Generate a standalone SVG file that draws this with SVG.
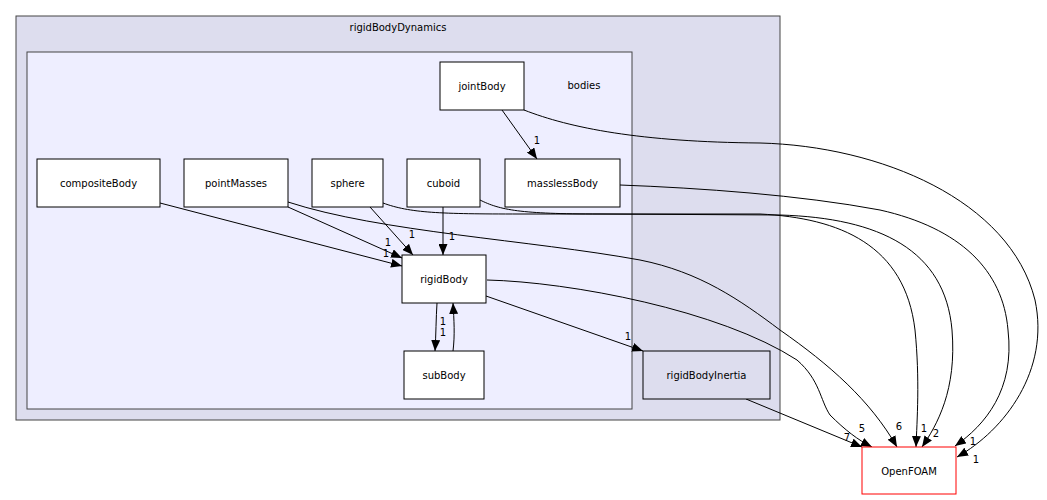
<svg xmlns="http://www.w3.org/2000/svg" width="1047" height="500" viewBox="0 0 1047 500">
<style>
text{font-family:"DejaVu Sans",sans-serif;font-size:10px;fill:#000}
.n{text-anchor:middle}
.box{fill:#fff;stroke:#000;stroke-width:1}
.e{fill:none;stroke:#000;stroke-width:1;marker-end:url(#ah)}
.l{text-anchor:middle}
</style>
<defs>
<marker id="ah" viewBox="0 0 11 9" refX="11" refY="4.5" markerWidth="11" markerHeight="9" markerUnits="userSpaceOnUse" orient="auto">
<path d="M0,0 L11,4.5 L0,9 z" fill="#000"/>
</marker>
</defs>
<g id="cluster_rigidBodyDynamics">
<rect x="16" y="16" width="764" height="404" fill="#ddddee" stroke="#444" stroke-width="1"/>
<text x="398" y="31" class="n">rigidBodyDynamics</text>
</g>
<g id="cluster_bodies">
<rect x="27" y="52" width="605" height="357" fill="#eeeeff" stroke="#444" stroke-width="1"/>
<text x="584" y="89" class="n">bodies</text>
</g>
<g id="edges">
<path class="e" d="M502,110 L537,159"/>
<text x="537" y="144" class="l">1</text>
<path class="e" d="M524,110 C570,128 640,142 760,143 C880,146 1010,200 1035,300 C1050,370 1005,430 957,457"/>
<text x="976" y="463" class="l">1</text>
<path class="e" d="M620,185 C700,188 800,195 880,210 C960,228 1003,270 1008,330 C1015,390 985,425 955,446"/>
<text x="973" y="445" class="l">1</text>
<path class="e" d="M443,207 L443,255"/>
<text x="452" y="240" class="l">1</text>
<path class="e" d="M480,200 C500,210 520,214 600,214 L780,215 C880,218 945,250 952,330 C957,390 937,425 922,447"/>
<text x="936" y="437" class="l">2</text>
<path class="e" d="M370,207 L413,255"/>
<text x="412" y="238" class="l">1</text>
<path class="e" d="M383,203 C410,213 440,214 520,214 L760,214 C840,218 905,245 915,330 C920,380 917,420 916,447"/>
<text x="924" y="432" class="l">1</text>
<path class="e" d="M288,207 L402,258"/>
<text x="388" y="246" class="l">1</text>
<path class="e" d="M288,202 C380,232 530,240 640,260 C700,272 740,300 780,330 C830,365 870,400 897,447"/>
<text x="899" y="430" class="l">6</text>
<path class="e" d="M160,203 L402,266"/>
<text x="386" y="257" class="l">1</text>
<path class="e" d="M437,303 C436,318 436,335 435,351"/>
<text x="443" y="336" class="l">1</text>
<path class="e" d="M453,351 C455,335 454,320 453,303"/>
<text x="443" y="325" class="l">1</text>
<path class="e" d="M486,296 L643,351"/>
<text x="628" y="340" class="l">1</text>
<path class="e" d="M487,280 C570,282 720,310 797,360 C820,380 820,400 830,415 C845,430 858,440 872,447"/>
<text x="862" y="432" class="l">5</text>
<path class="e" d="M746,399 L862,447"/>
<text x="847" y="441" class="l">7</text>
</g>
<g id="node_jointBody"><rect class="box" x="440" y="62" width="84" height="48"/><text x="482" y="89.5" class="n">jointBody</text></g>
<g id="node_compositeBody"><rect class="box" x="37" y="159" width="123" height="48"/><text x="98.5" y="186.5" class="n">compositeBody</text></g>
<g id="node_pointMasses"><rect class="box" x="184" y="159" width="104" height="48"/><text x="236" y="186.5" class="n">pointMasses</text></g>
<g id="node_sphere"><rect class="box" x="312" y="159" width="71" height="48"/><text x="347.5" y="186.5" class="n">sphere</text></g>
<g id="node_cuboid"><rect class="box" x="407" y="159" width="73" height="48"/><text x="443.5" y="186.5" class="n">cuboid</text></g>
<g id="node_masslessBody"><rect class="box" x="505" y="159" width="115" height="48"/><text x="562.5" y="186.5" class="n">masslessBody</text></g>
<g id="node_rigidBody"><rect class="box" x="402" y="255" width="84" height="48"/><text x="444" y="282.5" class="n">rigidBody</text></g>
<g id="node_subBody"><rect class="box" x="404" y="351" width="80" height="48"/><text x="444" y="378.5" class="n">subBody</text></g>
<g id="node_rigidBodyInertia"><rect x="643" y="351" width="127" height="48" fill="#ddddee" stroke="#000"/><text x="706.5" y="378.5" class="n">rigidBodyInertia</text></g>
<g id="node_OpenFOAM"><rect x="862" y="447" width="94" height="47" fill="#fff" stroke="#ff0000"/><text x="909" y="474.5" class="n">OpenFOAM</text></g>
</svg>
